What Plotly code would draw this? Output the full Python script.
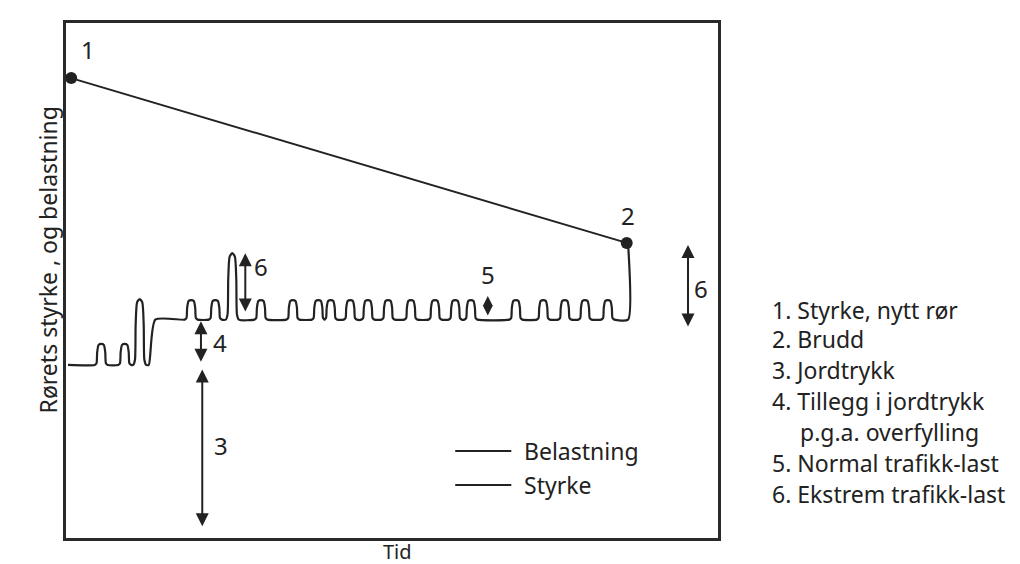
import plotly.graph_objects as go

# ---- data (schematic units: time 0..100, level 0..100) ----
strength_x = [0.8, 86.0]
strength_y = [89.3, 57.3]

load_start_x = 0.3
load_base_low = 33.6
load_base_high = 42.4
load_step_x = [12.7, 13.7]
load_end_x = 86.2

early_pulse_x = [5.4, 9.0, 11.3]
early_pulse_peak = [37.7, 37.7, 46.4]

pulse_x = [19.2, 22.9, 25.5, 29.9, 34.8, 38.7, 40.6, 43.6, 46.3, 49.4, 52.9,
           56.6, 59.7, 62.1, 69.0, 73.2, 76.5, 79.6, 83.1]
pulse_peak = [46.2, 46.2, 55.3, 46.2, 46.2, 46.2, 46.2, 46.2, 46.2, 46.2, 46.2,
              46.2, 46.2, 46.2, 46.2, 46.2, 46.2, 46.2, 46.2]

legend_labels = ["Belastning", "Styrke"]
list_items = ["1. Styrke, nytt rør", "2. Brudd", "3. Jordtrykk", "4. Tillegg i jordtrykk",
              "p.g.a. overfylling", "5. Normal trafikk-last", "6. Ekstrem trafikk-last"]

# ---- build load path ----
DX = [-1.0, -0.72, -0.62, -0.4, 0.0, 0.4, 0.62, 0.72, 1.0]
FR = [0.0, 0.08, 0.6, 0.95, 1.0, 0.95, 0.6, 0.08, 0.0]

def pulses(centers, peaks, base):
    xs, ys = [], []
    for c, p in zip(centers, peaks):
        for d, f in zip(DX, FR):
            xs.append(c + d)
            ys.append(base + f * (p - base))
    return xs, ys

lx, ly = [load_start_x], [load_base_low]
px_, py_ = pulses(early_pulse_x, early_pulse_peak, load_base_low)
lx += px_; ly += py_
lx += [load_step_x[0], load_step_x[1]]; ly += [load_base_low, load_base_high]
px_, py_ = pulses(pulse_x, pulse_peak, load_base_high)
lx += px_; ly += py_
lx += [load_end_x, load_end_x]; ly += [load_base_high, strength_y[1]]

INK = "#222222"
FONT = "Noto Sans"

fig = go.Figure()
fig.add_trace(go.Scatter(x=lx, y=ly, mode="lines", name="Belastning",
                         line=dict(color=INK, width=2.2, shape="spline", smoothing=0.6),
                         showlegend=False))
fig.add_trace(go.Scatter(x=strength_x, y=strength_y, mode="lines+markers", name="Styrke",
                         line=dict(color=INK, width=2), marker=dict(size=12, color=INK),
                         showlegend=False))

anns = []
def darrow(x, y0, y1, w=2, size=1.3):
    anns.append(dict(x=x, y=y1, ax=x, ay=y0, xref="x", yref="y", axref="x", ayref="y",
                     showarrow=True, arrowhead=2, arrowside="end+start", arrowsize=size,
                     arrowwidth=w, arrowcolor=INK, text=""))

darrow(20.9, 33.0, 2.3)
darrow(20.7, 42.4, 34.2)
darrow(27.5, 43.7, 55.3)
darrow(64.7, 42.9, 47.0, size=1.0)
darrow(95.4, 40.8, 56.9)

def lab(x, y, t, **kw):
    d = dict(x=x, y=y, xref="x", yref="y", text=t, showarrow=False,
             font=dict(family=FONT, size=24, color=INK))
    d.update(kw)
    anns.append(d)

lab(3.4, 94.8, "1")
lab(86.2, 62.7, "2")
lab(23.8, 17.9, "3")
lab(23.6, 37.9, "4")
lab(64.7, 51.1, "5")
lab(29.9, 52.8, "6")
lab(97.4, 48.5, "6")

# manual legend
shapes = []
for yy, t in zip([16.9, 10.3], legend_labels):
    shapes.append(dict(type="line", xref="x", yref="y", x0=59.7, x1=68.3, y0=yy, y1=yy,
                       line=dict(color=INK, width=2)))
    lab(69.9, yy, t, xanchor="left", font=dict(family=FONT, size=23, color=INK))

# right-hand list
list_y = [0.443, 0.386, 0.326, 0.266, 0.206, 0.146, 0.085]
for t, yy in zip(list_items, list_y):
    xx = 1.122 if t.startswith("p.g.a.") else 1.079
    anns.append(dict(x=xx, y=yy, xref="paper", yref="paper", text=t, showarrow=False,
                     xanchor="left", yanchor="middle",
                     font=dict(family=FONT, size=23, color=INK)))

# axis titles
anns.append(dict(x=-0.056, y=0.54, xref="paper", yref="paper", text="Rørets styrke , og belastning",
                 textangle=-90, showarrow=False, font=dict(family=FONT, size=23, color=INK)))
anns.append(dict(x=0.509, y=-0.027, xref="paper", yref="paper", text="Tid", showarrow=False,
                 yanchor="middle", borderpad=0, font=dict(family=FONT, size=20, color=INK)))

ax_common = dict(showgrid=False, zeroline=False, showticklabels=False, ticks="",
                 showline=True, mirror=True, linecolor="#2a2a2a", linewidth=3)
fig.update_layout(
    width=1020, height=564,
    margin=dict(l=58, r=310, t=15, b=34),
    paper_bgcolor="white", plot_bgcolor="white",
    xaxis=dict(range=[0, 100], **ax_common),
    yaxis=dict(range=[0, 100], **ax_common),
    annotations=anns, shapes=shapes,
)
fig.write_html("out.html")
